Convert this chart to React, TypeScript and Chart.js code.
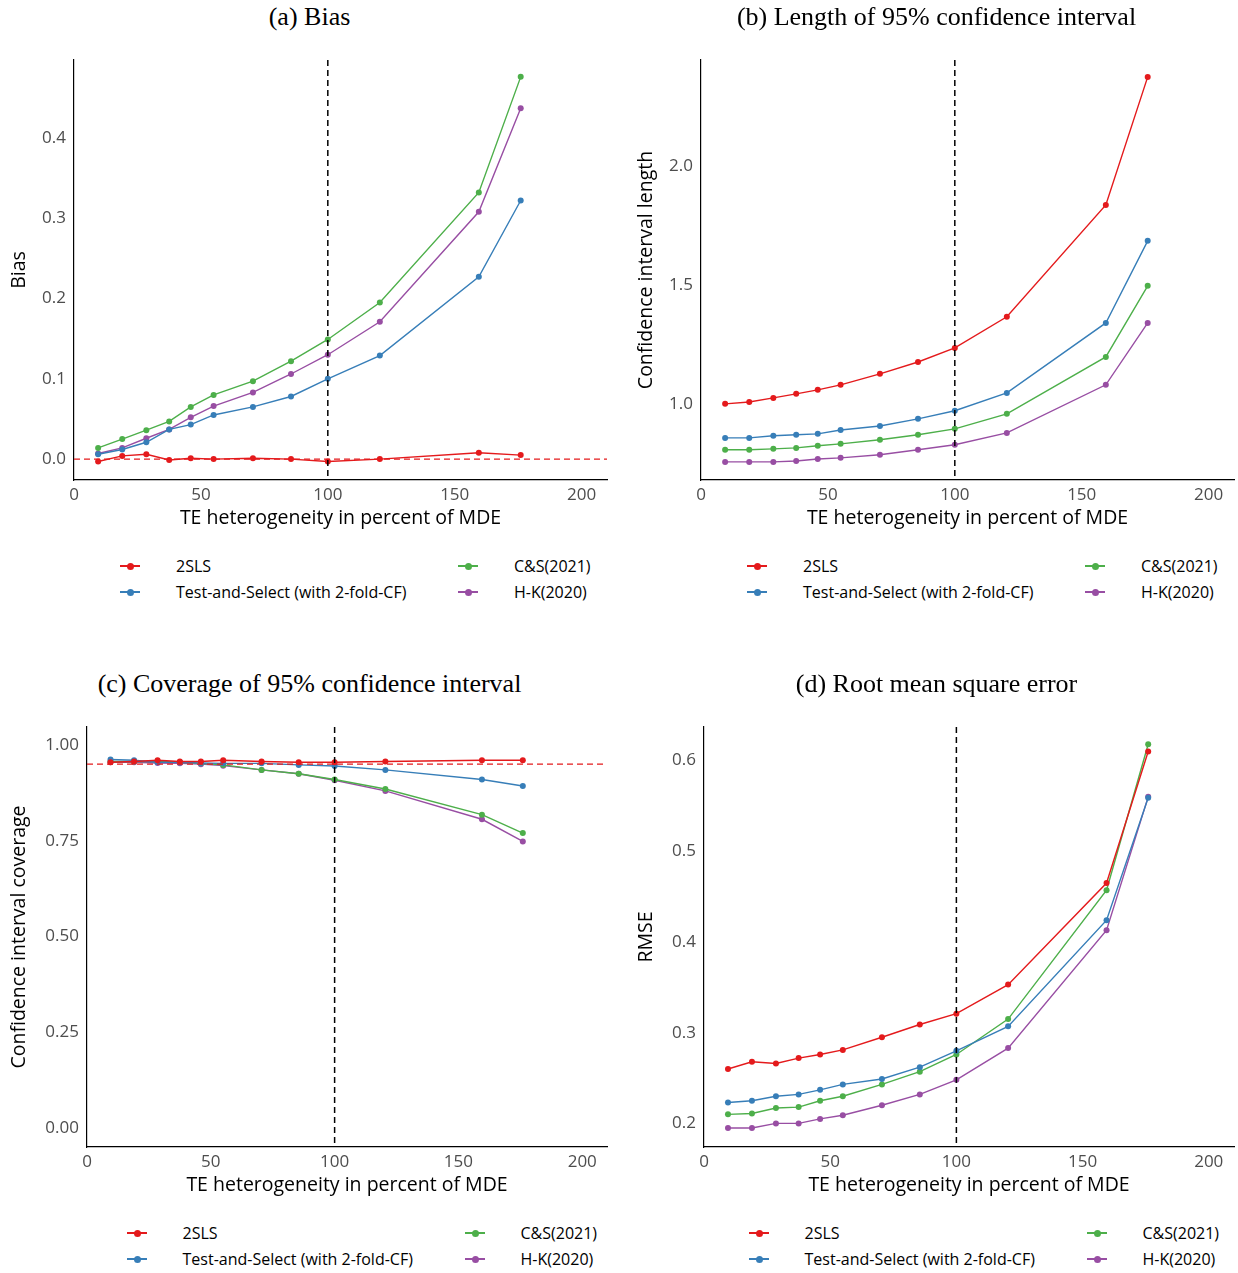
import { useEffect, useRef } from "react";
import { Chart, registerables } from "chart.js";

Chart.register(...registerables);

const te = [9.5, 19, 28.5, 37.5, 46, 55, 70.5, 85.5, 100, 120.5, 159.5, 176];
const seriesNames = ["2SLS", "Test-and-Select (with 2-fold-CF)", "C&S(2021)", "H-K(2020)"];
const colors = ["#E41A1C", "#377EB8", "#4DAF4A", "#984EA3"];

const biasTsls = [-0.003, 0.004, 0.006, -0.001, 0.001, 0, 0.001, 0, -0.003, 0, 0.008, 0.005];
const biasTs = [0.006, 0.012, 0.021, 0.037, 0.043, 0.055, 0.065, 0.078, 0.1, 0.129, 0.227, 0.322];
const biasCs = [0.014, 0.025, 0.036, 0.047, 0.065, 0.08, 0.097, 0.122, 0.149, 0.195, 0.332, 0.476];
const biasHk = [0.007, 0.014, 0.026, 0.037, 0.052, 0.066, 0.083, 0.106, 0.13, 0.171, 0.308, 0.437];

const lenTsls = [1.0, 1.008, 1.025, 1.042, 1.059, 1.08, 1.126, 1.176, 1.235, 1.366, 1.836, 2.374];
const lenTs = [0.857, 0.857, 0.866, 0.87, 0.874, 0.89, 0.907, 0.937, 0.971, 1.046, 1.34, 1.685];
const lenCs = [0.807, 0.807, 0.811, 0.815, 0.824, 0.832, 0.849, 0.87, 0.895, 0.958, 1.197, 1.496];
const lenHk = [0.756, 0.756, 0.756, 0.76, 0.768, 0.773, 0.786, 0.807, 0.828, 0.878, 1.08, 1.34];

const covTsls = [0.955, 0.957, 0.96, 0.957, 0.957, 0.96, 0.957, 0.955, 0.955, 0.957, 0.96, 0.96];
const covTs = [0.962, 0.96, 0.955, 0.955, 0.953, 0.952, 0.952, 0.948, 0.945, 0.935, 0.91, 0.893];
const covCs = [0.957, 0.957, 0.957, 0.955, 0.952, 0.948, 0.935, 0.925, 0.91, 0.885, 0.818, 0.77];
const covHk = [0.955, 0.955, 0.953, 0.952, 0.95, 0.946, 0.935, 0.925, 0.908, 0.88, 0.806, 0.748];

const rmseTsls = [0.26, 0.268, 0.266, 0.272, 0.276, 0.281, 0.295, 0.309, 0.321, 0.353, 0.465, 0.61];
const rmseTs = [0.223, 0.225, 0.23, 0.232, 0.237, 0.243, 0.249, 0.262, 0.28, 0.307, 0.424, 0.559];
const rmseCs = [0.21, 0.211, 0.217, 0.218, 0.225, 0.23, 0.243, 0.257, 0.276, 0.315, 0.457, 0.618];
const rmseHk = [0.195, 0.195, 0.2, 0.2, 0.205, 0.209, 0.22, 0.232, 0.248, 0.283, 0.413, 0.56];

const xTicks = [0, 50, 100, 150, 200];
const SANS = "'Open Sans', Lato, sans-serif";

const refLines = {
  id: "refLines",
  afterDatasetsDraw(chart: any, _a: any, opts: any) {
    const { ctx, chartArea, scales } = chart;
    ctx.save();
    ctx.setLineDash([6, 4]);
    ctx.lineWidth = 1.5;
    ctx.strokeStyle = "#000";
    const xv = scales.x.getPixelForValue(100);
    ctx.beginPath();
    ctx.moveTo(xv, chartArea.top);
    ctx.lineTo(xv, chartArea.bottom);
    ctx.stroke();
    if (opts.hline !== undefined && opts.hline !== null) {
      const yv = scales.y.getPixelForValue(opts.hline);
      ctx.strokeStyle = "#E41A1C";
      ctx.lineWidth = 1.2;
      ctx.beginPath();
      ctx.moveTo(chartArea.left, yv);
      ctx.lineTo(chartArea.right, yv);
      ctx.stroke();
    }
    ctx.restore();
  },
};

const Panel = ({ title, ylabel, series, yMin, yMax, yTicks, fmt, hline, axisW, left, top }: any) => {
  const ref = useRef<HTMLCanvasElement>(null);
  useEffect(() => {
    if (!ref.current) return;
    const chart = new Chart(ref.current, {
      type: "line",
      data: {
        datasets: series.map((s: number[], i: number) => ({
          label: seriesNames[i],
          data: te.map((x, j) => ({ x, y: s[j] })),
          borderColor: colors[i],
          backgroundColor: colors[i],
          borderWidth: 1.4,
          pointRadius: 3,
          pointBorderWidth: 0,
          tension: 0,
        })),
      },
      options: {
        animation: false,
        responsive: false,
        layout: { padding: { top: 20, right: 12, left: 0, bottom: 0 } },
        plugins: { legend: { display: false }, tooltip: { enabled: false }, refLines: { hline } } as any,
        scales: {
          x: {
            type: "linear",
            min: 0,
            max: 210,
            afterBuildTicks: (s: any) => { s.ticks = xTicks.map((v) => ({ value: v })); },
            afterFit: (s: any) => { s.height = 50; },
            grid: { display: false, drawTicks: true, tickLength: 5, tickColor: "#333" },
            border: { color: "#000", width: 1.2 },
            ticks: { color: "#4d4d4d", font: { family: SANS, size: 17 }, padding: 0, maxRotation: 0 },
            title: { display: true, text: "TE heterogeneity in percent of MDE", color: "#000", font: { family: SANS, size: 19.5 }, padding: 0 },
          },
          y: {
            min: yMin,
            max: yMax,
            afterBuildTicks: (s: any) => { s.ticks = yTicks.map((v: number) => ({ value: v })); },
            afterFit: (s: any) => { s.width = axisW; },
            grid: { display: false, drawTicks: true, tickLength: 5, tickColor: "#333" },
            border: { color: "#000", width: 1.2 },
            ticks: { color: "#4d4d4d", font: { family: SANS, size: 17 }, callback: (v: any) => fmt(v), padding: 3 },
            title: { display: true, text: ylabel, color: "#000", font: { family: SANS, size: 19.5 }, padding: { top: 8, bottom: 0 } },
          },
        },
      },
      plugins: [refLines],
    });
    return () => chart.destroy();
  }, []);
  const shift = (axisW - 74) / 2;
  const legendItem = (i: number, x: number, y: number) => (
    <div key={i} style={{ position: "absolute", left: x, top: y, display: "flex", alignItems: "center", fontFamily: SANS, fontSize: 16, color: "#000" }}>
      <div style={{ position: "relative", width: 20, height: 2, background: colors[i], marginRight: 36 }}>
        <div style={{ position: "absolute", left: 7, top: -2.5, width: 7, height: 7, borderRadius: 4, background: colors[i] }} />
      </div>
      {seriesNames[i]}
    </div>
  );
  return (
    <div style={{ position: "absolute", left, top, width: 619, height: 636 }}>
      <div style={{ position: "absolute", left: 0, width: 619, top: 2, textAlign: "center", fontFamily: "'Liberation Serif', 'DejaVu Serif', serif", fontSize: 26 }}>{title}</div>
      <canvas ref={ref} width={619} height={490} style={{ position: "absolute", left: 0, top: 40 }} />
      {legendItem(0, 120 + shift, 555)}
      {legendItem(1, 120 + shift, 581)}
      {legendItem(2, 458 + shift, 555)}
      {legendItem(3, 458 + shift, 581)}
    </div>
  );
};

export default function App() {
  return (
    <div style={{ position: "fixed", left: 0, top: 0, width: 1238, height: 1273, background: "#fff" }}>
      <Panel title="(a) Bias" ylabel="Bias" series={[biasTsls, biasTs, biasCs, biasHk]} yMin={-0.026} yMax={0.497}
        yTicks={[0, 0.1, 0.2, 0.3, 0.4]} fmt={(v: number) => v.toFixed(1)} hline={0} axisW={74} left={0} top={0} />
      <Panel title="(b) Length of 95% confidence interval" ylabel="Confidence interval length" series={[lenTsls, lenTs, lenCs, lenHk]}
        yMin={0.68} yMax={2.445} yTicks={[1.0, 1.5, 2.0]} fmt={(v: number) => v.toFixed(1)} hline={null} axisW={74} left={627} top={0} />
      <Panel title="(c) Coverage of 95% confidence interval" ylabel="Confidence interval coverage" series={[covTsls, covTs, covCs, covHk]}
        yMin={-0.05} yMax={1.047} yTicks={[0, 0.25, 0.5, 0.75, 1.0]} fmt={(v: number) => v.toFixed(2)} hline={0.95} axisW={87} left={0} top={667} />
      <Panel title="(d) Root mean square error" ylabel="RMSE" series={[rmseTsls, rmseTs, rmseCs, rmseHk]}
        yMin={0.174} yMax={0.637} yTicks={[0.2, 0.3, 0.4, 0.5, 0.6]} fmt={(v: number) => v.toFixed(1)} hline={null} axisW={77} left={627} top={667} />
    </div>
  );
}
